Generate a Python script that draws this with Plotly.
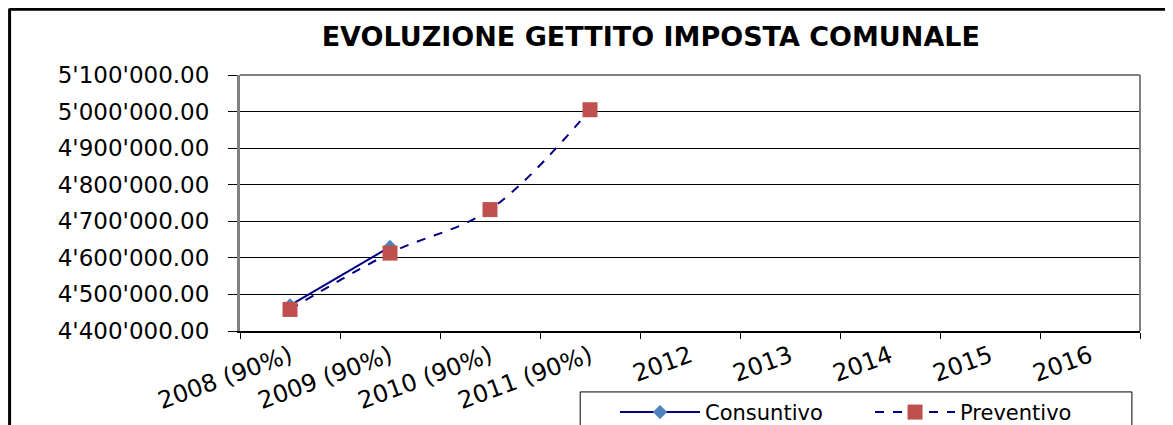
import plotly.graph_objects as go

# Dati
anni = ['2008 (90%)', '2009 (90%)', '2010 (90%)', '2011 (90%)',
        '2012', '2013', '2014', '2015', '2016']
consuntivo = [4470000, 4630000, None, None, None, None, None, None, None]
preventivo = [4459000, 4613000, 4732000, 5005000, None, None, None, None, None]

valori_y = [4400000, 4500000, 4600000, 4700000, 4800000, 4900000, 5000000, 5100000]
etichette_y = ["4'400'000.00", "4'500'000.00", "4'600'000.00", "4'700'000.00",
               "4'800'000.00", "4'900'000.00", "5'000'000.00", "5'100'000.00"]

font_base = 'DejaVu Sans, Arial, sans-serif'

fig = go.Figure()

fig.add_trace(go.Scatter(
    x=anni, y=consuntivo, name='Consuntivo',
    mode='lines+markers',
    line=dict(color='#000080', width=2, shape='spline'),
    marker=dict(symbol='diamond', size=11, color='#4F81BD'),
    connectgaps=False,
))

fig.add_trace(go.Scatter(
    x=anni, y=preventivo, name='Preventivo',
    mode='lines+markers',
    line=dict(color='#000080', width=2, dash='dash', shape='spline'),
    marker=dict(symbol='square', size=15, color='#C0504D'),
    connectgaps=False,
))

fig.update_layout(
    width=1173, height=425,
    margin=dict(l=232, r=41, t=67, b=102, autoexpand=False),
    paper_bgcolor='white',
    plot_bgcolor='white',
    title=dict(
        text='<b>EVOLUZIONE GETTITO IMPOSTA COMUNALE</b>',
        x=0.548, xanchor='center', y=0.932, yanchor='middle',
        font=dict(family=font_base, size=27, color='black'),
    ),
    showlegend=True,
    legend=dict(
        orientation='h',
        x=0.4167, xanchor='left', y=-0.238, yanchor='top',
        borderwidth=0,
        bgcolor='rgba(0,0,0,0)',
        font=dict(family=font_base, size=21, color='black'),
        itemwidth=80,
        entrywidth=160,
    ),
    xaxis=dict(
        type='category',
        categoryorder='array', categoryarray=anni,
        range=[-0.5, 8.5],
        tickangle=-20,
        tickson='boundaries',
        ticks='outside', ticklen=6, tickcolor='black',
        showline=True, linecolor='black', linewidth=2,
        showgrid=False,
        automargin=False,
        tickfont=dict(family=font_base, size=24, color='black'),
    ),
    yaxis=dict(
        range=[4400000, 5100000],
        tickvals=valori_y, ticktext=etichette_y,
        ticks='outside', ticklen=9, tickcolor='black',
        ticklabelstandoff=14,
        showline=True, linecolor='#808080', linewidth=3,
        showgrid=True, gridcolor='black', gridwidth=1,
        zeroline=False,
        automargin=False,
        tickfont=dict(family=font_base, size=23, color='black'),
    ),
)

# Bordo del riquadro del grafico (alto e destra grigi)
fig.add_shape(type='line', xref='paper', yref='paper', x0=0, x1=1, y0=1, y1=1,
              line=dict(color='#808080', width=2))
fig.add_shape(type='line', xref='paper', yref='paper', x0=1, x1=1, y0=0, y1=1,
              line=dict(color='#808080', width=2))

# Riquadro della legenda
fig.add_shape(type='rect', xref='paper', yref='paper',
              x0=0.378, x1=0.991, y0=-0.238, y1=-0.5,
              line=dict(color='black', width=1))

# Cornice esterna (sinistra e alto)
fig.add_shape(type='line', xref='paper', yref='paper',
              x0=-0.256, x1=-0.256, y0=-0.45, y1=1.26,
              line=dict(color='black', width=3))
fig.add_shape(type='line', xref='paper', yref='paper',
              x0=-0.256, x1=1.05, y0=1.257, y1=1.257,
              line=dict(color='black', width=3))

fig.write_html('out.html')
